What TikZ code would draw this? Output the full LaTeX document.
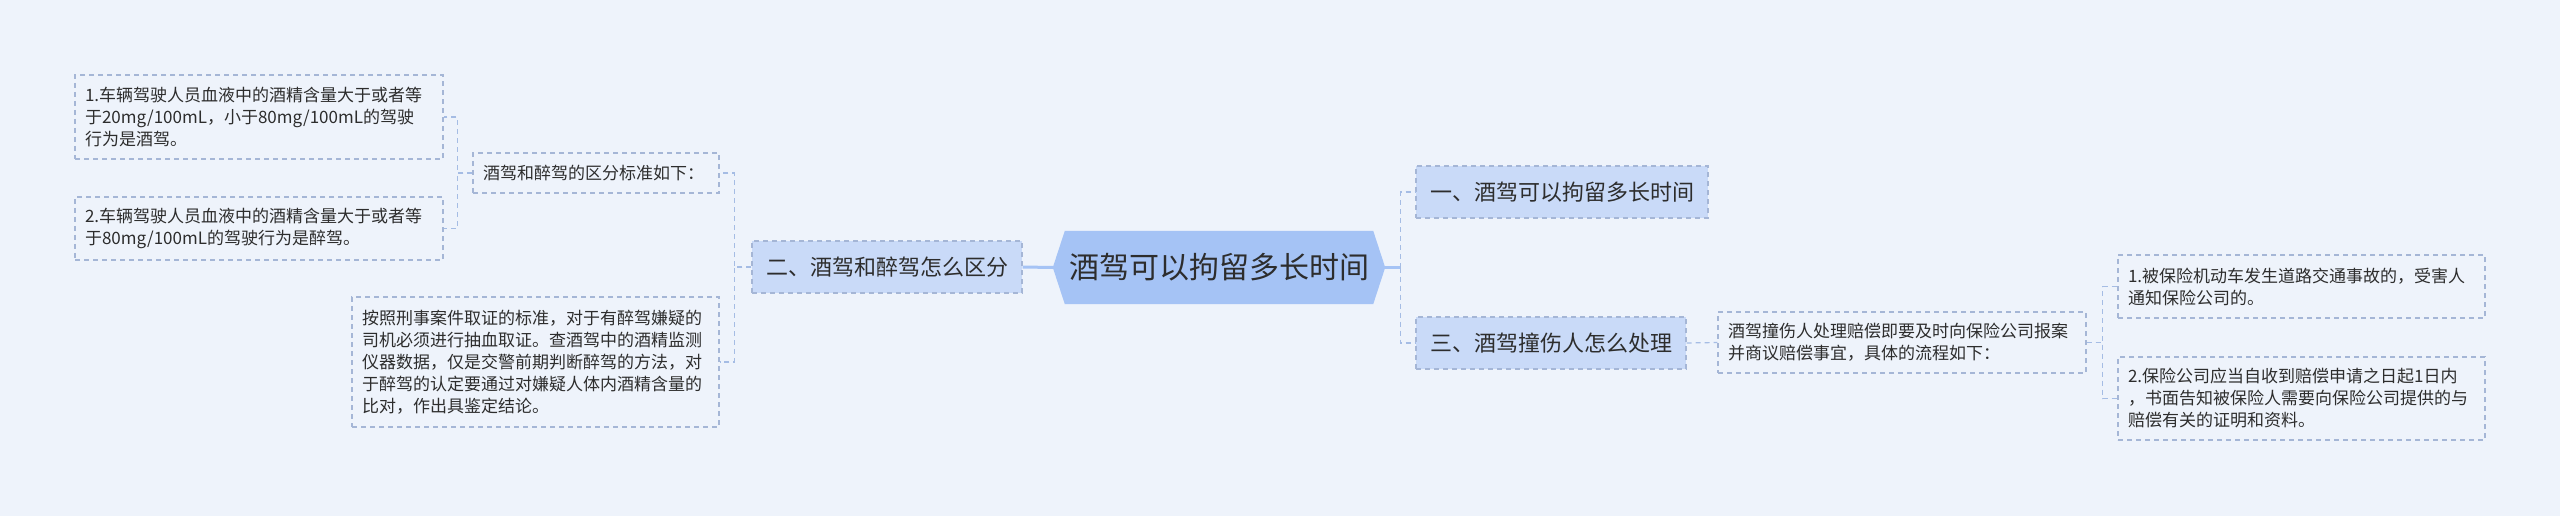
\documentclass[tikz,border=0pt]{standalone}
\usepackage{fontspec}
\setmainfont{Noto Sans CJK SC}
\usetikzlibrary{backgrounds}
\definecolor{bgc}{RGB}{238,243,251}
\definecolor{rootc}{RGB}{165,195,245}
\definecolor{lvc}{RGB}{201,218,248}
\definecolor{bordc}{RGB}{165,182,214}
\definecolor{connc}{RGB}{165,188,228}
\definecolor{txtc}{RGB}{45,45,45}
\begin{document}
\begin{tikzpicture}[x=1pt,y=-1pt,
  box/.style={draw=bordc, dash pattern=on 5pt off 4pt, line width=1.2pt, text=txtc},
  leaf/.style={box, inner xsep=10pt, inner ysep=0pt, align=left, font=\fontsize{17}{22}\selectfont},
  lvl/.style={box, fill=lvc, inner sep=0pt, align=center, font=\fontsize{22}{26}\selectfont},
  conn/.style={draw=connc, line width=1.2pt, dash pattern=on 5pt off 4pt},
  rootline/.style={draw=rootc, line width=3pt}]
\begin{scope}[on background layer]
  \fill[bgc] (0,0) rectangle (2560,516);
\end{scope}
\useasboundingbox (0,0) rectangle (2560,516);

% root
\node[font=\fontsize{30}{34}\selectfont, text=txtc, minimum width=332pt, minimum height=73pt, inner sep=0pt] (root) at (1219,267.5) {酒驾可以拘留多长时间};
\begin{scope}[on background layer]
  \fill[rootc] (root.west) -- ([xshift=12pt]root.north west) -- ([xshift=-12pt]root.north east) -- (root.east) -- ([xshift=-12pt]root.south east) -- ([xshift=12pt]root.south west) -- cycle;
\end{scope}

% level 1
\node[lvl, minimum width=270pt, minimum height=52pt] (n2) at (887,267) {二、酒驾和醉驾怎么区分};
\node[lvl, minimum width=292pt, minimum height=52pt] (n1) at (1562,192) {一、酒驾可以拘留多长时间};
\node[lvl, minimum width=270pt, minimum height=52pt] (n3) at (1551,343) {三、酒驾撞伤人怎么处理};

% left leaves
\node[leaf, text width=226pt, minimum height=40pt] (a) at (596,173) {酒驾和醉驾的区分标准如下：};
\node[leaf, text width=347pt, minimum height=130pt] (b) at (535.5,362) {按照刑事案件取证的标准，对于有醉驾嫌疑的\\司机必须进行抽血取证。查酒驾中的酒精监测\\仪器数据，仅是交警前期判断醉驾的方法，对\\于醉驾的认定要通过对嫌疑人体内酒精含量的\\比对，作出具鉴定结论。};
\node[leaf, text width=348pt, minimum height=84pt] (a1) at (259,117) {1.车辆驾驶人员血液中的酒精含量大于或者等\\于20mg/100mL，小于80mg/100mL的驾驶\\行为是酒驾。};
\node[leaf, text width=348pt, minimum height=63pt] (a2) at (259,228.5) {2.车辆驾驶人员血液中的酒精含量大于或者等\\于80mg/100mL的驾驶行为是醉驾。};

% right leaves
\node[leaf, text width=348pt, minimum height=61pt] (c) at (1902,342.5) {酒驾撞伤人处理赔偿即要及时向保险公司报案\\并商议赔偿事宜，具体的流程如下：};
\node[leaf, text width=347pt, minimum height=63pt] (c1) at (2301.5,286.5) {1.被保险机动车发生道路交通事故的，受害人\\通知保险公司的。};
\node[leaf, text width=347pt, minimum height=83pt] (c2) at (2301.5,398.5) {2.保险公司应当自收到赔偿申请之日起1日内\\，书面告知被保险人需要向保险公司提供的与\\赔偿有关的证明和资料。};

% connectors
\draw[rootline] (root.west) -- (n2.east);
\draw[rootline] (root.east) -- ++(15,0) coordinate (rj);
\draw[conn] (rj) |- (n1.west);
\draw[conn] (rj) |- (n3.west);
\draw[conn] (n2.west) -- ++(-17,0) |- (a.east);
\draw[conn] (n2.west) -- ++(-17,0) |- (b.east);
\draw[conn] (a.west) -- ++(-15,0) |- (a1.east);
\draw[conn] (a.west) -- ++(-15,0) |- (a2.east);
\draw[conn] (n3.east) -- (c.west);
\draw[conn] (c.east) -- ++(16,0) |- (c1.west);
\draw[conn] (c.east) -- ++(16,0) |- (c2.west);
\end{tikzpicture}
\end{document}
